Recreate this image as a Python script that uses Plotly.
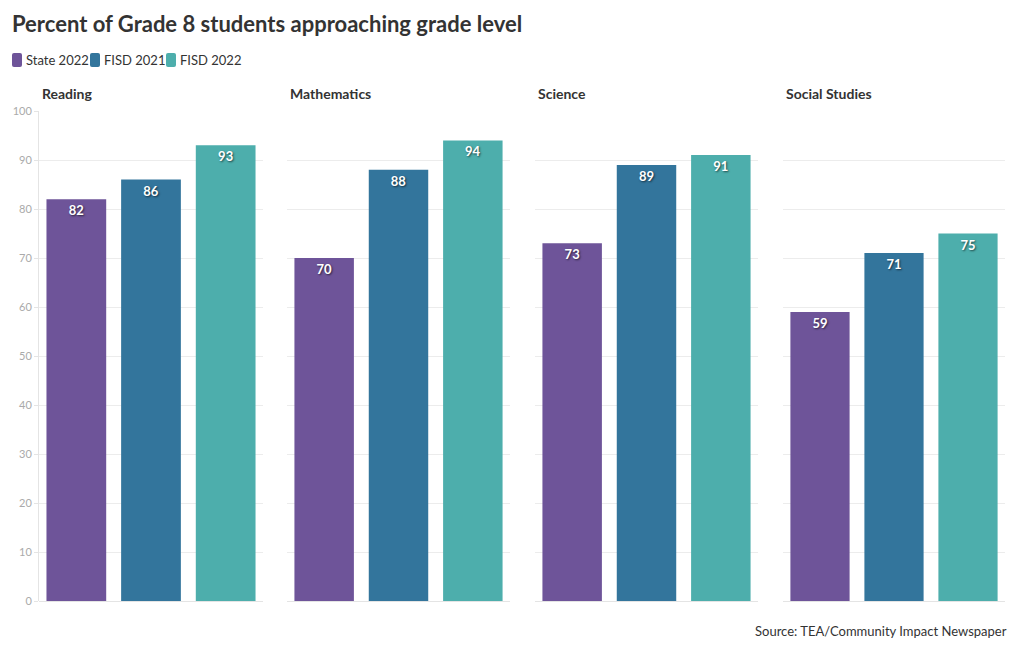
import plotly.graph_objects as go

subjects = ["Reading", "Mathematics", "Science", "Social Studies"]
series = ["State 2022", "FISD 2021", "FISD 2022"]
values = {
    "State 2022": [82, 70, 73, 59],
    "FISD 2021": [86, 88, 89, 71],
    "FISD 2022": [93, 94, 91, 75],
}
colors = {"State 2022": "#6e5499", "FISD 2021": "#33759c", "FISD 2022": "#4daeac"}
y_ticks = [0, 10, 20, 30, 40, 50, 60, 70, 80, 90, 100]

W, H = 1020, 650
ml, mr, mt, mb = 39, 15, 111, 49
pw = W - ml - mr
ph = H - mt - mb
panel_px = [(0, 224), (248, 471), (496, 719), (744, 966)]
domains = [(a / pw, b / pw) for a, b in panel_px]

def px_x(x):
    return (x - ml) / pw

def px_y(y):
    return (H - mb - y) / ph

fig = go.Figure()
for i, subj in enumerate(subjects):
    xa = "x" if i == 0 else f"x{i+1}"
    ya = "y" if i == 0 else f"y{i+1}"
    for s in series:
        v = values[s][i]
        fig.add_trace(go.Bar(
            x=[s], y=[v], name=s, legendgroup=s, showlegend=False,
            marker=dict(color=colors[s], line=dict(width=0)),
            text=[str(v)], textposition="inside", insidetextanchor="end",
            textfont=dict(color="white", size=13, family="Lato", weight="bold",
                          shadow="1px 1px 2px rgba(0,0,0,0.6)"),
            xaxis=xa, yaxis=ya, hoverinfo="skip",
        ))

layout = dict(
    width=W, height=H,
    margin=dict(l=ml, r=mr, t=mt, b=mb),
    paper_bgcolor="white", plot_bgcolor="white",
    font=dict(family="Lato", color="#333"),
    barmode="group", bargap=0.2,
    title=dict(text="<b>Percent of Grade 8 students approaching grade level</b>",
               x=12 / W, xanchor="left", y=1 - 24 / H, yanchor="middle",
               font=dict(size=22, color="#333", family="Lato")),
    showlegend=False,
)
annotations = []
shapes = []
for i, subj in enumerate(subjects):
    sfx = "" if i == 0 else str(i + 1)
    layout[f"xaxis{sfx}"] = dict(
        domain=list(domains[i]), anchor=f"y{sfx}", showticklabels=False,
        showgrid=False, zeroline=False, showline=False, ticks="", fixedrange=True,
    )
    layout[f"yaxis{sfx}"] = dict(
        domain=[0, 1], anchor=f"x{sfx}", range=[0, 100], tickvals=y_ticks,
        showticklabels=(i == 0), gridcolor="#ececec", gridwidth=1,
        zeroline=True, zerolinecolor="#e4e4e4", zerolinewidth=1,
        showline=(i == 0), linecolor="#e4e4e4", linewidth=1,
        ticks="outside" if i == 0 else "", ticklen=4, tickcolor="#e4e4e4",
        tickfont=dict(size=11, color="#aaaaaa"), fixedrange=True,
    )
    annotations.append(dict(
        text=f"<b>{subj}</b>", xref="paper", yref="paper",
        x=domains[i][0] + 1 / pw, y=px_y(93), xanchor="left", yanchor="middle",
        showarrow=False, font=dict(size=14, color="#333"),
    ))

# custom legend (tight spacing like the reference)
legend_x = [12, 90, 166]
for s, lx in zip(series, legend_x):
    shapes.append(dict(
        type="path", xref="paper", yref="paper",
        path=(f"M {px_x(lx+2)},{px_y(53)} L {px_x(lx+8)},{px_y(53)} "
              f"Q {px_x(lx+10)},{px_y(53)} {px_x(lx+10)},{px_y(55)} "
              f"L {px_x(lx+10)},{px_y(65)} Q {px_x(lx+10)},{px_y(67)} {px_x(lx+8)},{px_y(67)} "
              f"L {px_x(lx+2)},{px_y(67)} Q {px_x(lx)},{px_y(67)} {px_x(lx)},{px_y(65)} "
              f"L {px_x(lx)},{px_y(55)} Q {px_x(lx)},{px_y(53)} {px_x(lx+2)},{px_y(53)} Z"),
        fillcolor=colors[s], line=dict(width=0),
    ))
    annotations.append(dict(
        text=s, xref="paper", yref="paper", x=px_x(lx + 12), y=px_y(60),
        xanchor="left", yanchor="middle", showarrow=False,
        font=dict(size=13, color="#333"),
    ))

annotations.append(dict(
    text="Source: TEA/Community Impact Newspaper", xref="paper", yref="paper",
    x=px_x(1009), y=px_y(631), xanchor="right", yanchor="middle",
    showarrow=False, font=dict(size=13, color="#333"),
))
layout["annotations"] = annotations
layout["shapes"] = shapes
fig.update_layout(**layout)
fig.write_html("out.html", config={"displayModeBar": False},
               post_script="document.body.style.margin='0';")
